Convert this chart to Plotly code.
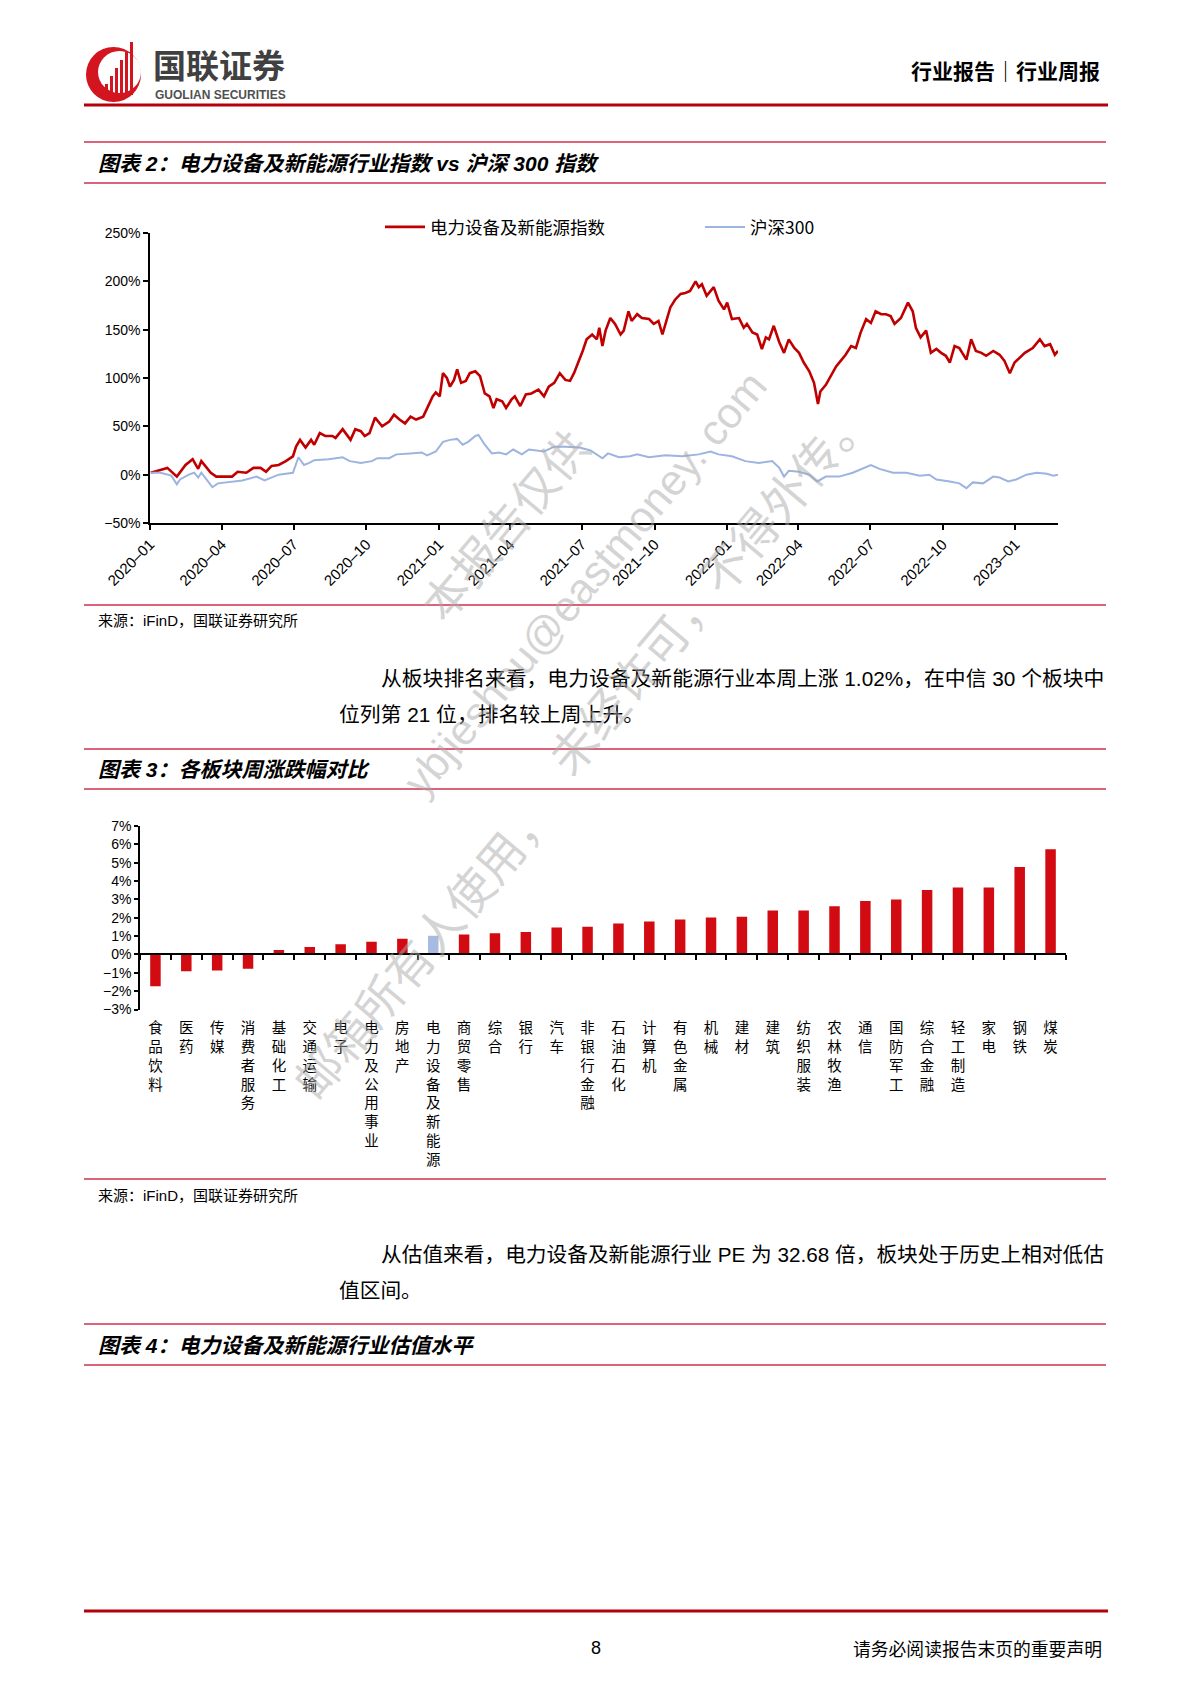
import plotly.graph_objects as go

# page size (px)
W, H = 1191, 1684

def px(x):
    return x / W

def py(y):
    return 1 - y / H

CJK = "Noto Sans CJK SC"
MIX = "Liberation Sans, Noto Sans CJK SC"
RED = "#C00000"
BLUE = "#9DB3E0"
PINK = "#D0304E"

###########################################
# data: 电力设备及新能源指数 vs 沪深300 (cumulative %)

ne_dates = [
    "2020-01-02", "2020-01-14", "2020-01-23", "2020-02-04", "2020-02-15", "2020-02-24",
    "2020-03-02", "2020-03-06", "2020-03-11", "2020-03-18", "2020-03-25", "2020-04-01",
    "2020-04-14", "2020-04-21", "2020-05-02", "2020-05-11", "2020-05-20", "2020-05-27",
    "2020-06-03", "2020-06-12", "2020-06-21", "2020-06-30", "2020-07-04", "2020-07-09",
    "2020-07-16", "2020-07-23", "2020-07-27", "2020-08-03", "2020-08-10", "2020-08-19",
    "2020-08-23", "2020-09-01", "2020-09-11", "2020-09-17", "2020-09-24", "2020-09-29",
    "2020-10-05", "2020-10-12", "2020-10-21", "2020-10-30", "2020-11-05", "2020-11-12",
    "2020-11-19", "2020-11-26", "2020-12-03", "2020-12-12", "2020-12-19", "2020-12-24",
    "2020-12-28", "2021-01-02", "2021-01-06", "2021-01-11", "2021-01-15", "2021-01-20",
    "2021-01-24", "2021-01-29", "2021-02-04", "2021-02-09", "2021-02-16", "2021-02-22",
    "2021-02-28", "2021-03-06", "2021-03-11", "2021-03-15", "2021-03-22", "2021-03-27",
    "2021-04-03", "2021-04-07", "2021-04-14", "2021-04-21", "2021-04-28", "2021-05-07",
    "2021-05-14", "2021-05-20", "2021-05-27", "2021-06-03", "2021-06-10", "2021-06-16",
    "2021-06-21", "2021-06-28", "2021-07-02", "2021-07-07", "2021-07-14", "2021-07-20",
    "2021-07-23", "2021-07-27", "2021-07-31", "2021-08-06", "2021-08-12", "2021-08-19",
    "2021-08-23", "2021-08-29", "2021-09-02", "2021-09-09", "2021-09-15", "2021-09-24",
    "2021-09-30", "2021-10-06", "2021-10-11", "2021-10-17", "2021-10-21", "2021-10-27",
    "2021-11-03", "2021-11-09", "2021-11-15", "2021-11-22", "2021-11-26", "2021-11-30",
    "2021-12-06", "2021-12-15", "2021-12-21", "2021-12-28", "2022-01-01", "2022-01-07",
    "2022-01-16", "2022-01-22", "2022-01-26", "2022-02-02", "2022-02-08", "2022-02-14",
    "2022-02-19", "2022-02-23", "2022-03-01", "2022-03-08", "2022-03-14", "2022-03-20",
    "2022-03-27", "2022-04-02", "2022-04-08", "2022-04-15", "2022-04-21", "2022-04-26",
    "2022-04-29", "2022-05-06", "2022-05-12", "2022-05-19", "2022-05-25", "2022-05-31",
    "2022-06-07", "2022-06-13", "2022-06-19", "2022-06-26", "2022-07-02", "2022-07-08",
    "2022-07-15", "2022-07-21", "2022-07-27", "2022-08-01", "2022-08-09", "2022-08-18",
    "2022-08-24", "2022-08-28", "2022-09-03", "2022-09-10", "2022-09-16", "2022-09-23",
    "2022-09-29", "2022-10-05", "2022-10-10", "2022-10-16", "2022-10-22", "2022-10-31",
    "2022-11-06", "2022-11-12", "2022-11-19", "2022-11-25", "2022-12-04", "2022-12-12",
    "2022-12-18", "2022-12-25", "2022-12-31", "2023-01-06", "2023-01-13", "2023-01-23",
    "2023-02-01", "2023-02-07", "2023-02-14", "2023-02-20", "2023-02-24",
]
ne_vals = [
    2, 5, 7, -2, 10, 16,
    6, 14, 9, 2, -2, -2,
    -2, 3, 2, 7, 7, 3,
    9, 10, 14, 19, 29, 36,
    28, 36, 31, 43, 40, 40,
    38, 47, 36, 47, 45, 40,
    43, 59, 50, 55, 62, 57,
    53, 60, 57, 60, 72, 81,
    85, 81, 105, 100, 91, 98,
    109, 95, 97, 105, 107, 102,
    84, 81, 69, 78, 76, 69,
    78, 81, 71, 83, 84, 88,
    81, 91, 95, 105, 98, 97,
    105, 119, 128, 140, 145, 140,
    152, 133, 149, 162, 156, 145,
    149, 169, 159, 166, 162, 161,
    156, 159, 145, 162, 173, 181,
    187, 188, 190, 200, 194, 197,
    185, 194, 180, 171, 178, 161,
    162, 152, 156, 147, 145, 130,
    142, 140, 154, 137, 126, 140,
    131, 126, 116, 107, 95, 73,
    86, 93, 102, 112, 118, 124,
    133, 131, 147, 161, 157, 169,
    166, 166, 164, 156, 162, 178,
    169, 152, 142, 149, 126, 130,
    126, 123, 116, 133, 131, 119,
    140, 128, 126, 123, 128, 124,
    118, 105, 116, 121, 126, 131,
    140, 133, 135, 124, 128,
]

hs_dates = [
    "2020-01-02", "2020-01-14", "2020-01-28", "2020-02-04", "2020-02-08", "2020-02-19",
    "2020-02-26", "2020-03-02", "2020-03-06", "2020-03-13", "2020-03-20", "2020-03-27",
    "2020-04-09", "2020-04-27", "2020-05-15", "2020-05-25", "2020-06-12", "2020-06-30",
    "2020-07-07", "2020-07-14", "2020-07-20", "2020-07-27", "2020-08-14", "2020-09-01",
    "2020-09-10", "2020-09-24", "2020-10-08", "2020-10-15", "2020-10-30", "2020-11-08",
    "2020-11-26", "2020-12-10", "2020-12-17", "2020-12-28", "2021-01-06", "2021-01-15",
    "2021-01-24", "2021-01-31", "2021-02-07", "2021-02-16", "2021-02-20", "2021-02-28",
    "2021-03-09", "2021-03-18", "2021-03-27", "2021-04-05", "2021-04-16", "2021-04-25",
    "2021-05-14", "2021-05-27", "2021-06-10", "2021-06-28", "2021-07-12", "2021-07-27",
    "2021-08-03", "2021-08-17", "2021-08-31", "2021-09-09", "2021-09-24", "2021-10-15",
    "2021-11-05", "2021-11-26", "2021-12-11", "2021-12-21", "2022-01-07", "2022-01-24",
    "2022-02-10", "2022-02-27", "2022-03-08", "2022-03-14", "2022-03-20", "2022-04-02",
    "2022-04-15", "2022-04-25", "2022-05-06", "2022-05-23", "2022-06-09", "2022-06-21",
    "2022-07-02", "2022-07-13", "2022-07-30", "2022-08-16", "2022-09-02", "2022-09-14",
    "2022-09-23", "2022-10-10", "2022-10-22", "2022-10-31", "2022-11-08", "2022-11-21",
    "2022-12-04", "2022-12-12", "2022-12-23", "2023-01-02", "2023-01-15", "2023-01-28",
    "2023-02-10", "2023-02-18", "2023-02-24",
]
hs_vals = [
    2, 2, -1, -10, -5, 0,
    2, -3, 2, -5, -13, -9,
    -8, -6, -2, -6, 0, 2,
    18, 10, 12, 15, 16, 18,
    14, 12, 14, 17, 17, 21,
    22, 23, 20, 24, 34, 36,
    37, 31, 34, 40, 41, 31,
    22, 23, 21, 26, 21, 26,
    24, 29, 29, 28, 25, 17,
    22, 18, 19, 21, 18, 20,
    19, 21, 24, 21, 19, 14,
    12, 14, 7, -2, 4, 3,
    0, -7, -2, -2, 2, 6,
    10, 6, 2, 2, -1, 0,
    -5, -7, -9, -14, -8, -9,
    -2, -3, -7, -5, 0, 2,
    1, -1, 0,
]

quarter_ticks = ["2020-01-01", "2020-04-01", "2020-07-01", "2020-10-01", "2021-01-01",
                 "2021-04-01", "2021-07-01", "2021-10-01", "2022-01-01", "2022-04-01",
                 "2022-07-01", "2022-10-01", "2023-01-01"]
quarter_labels = ["2020–01", "2020–04", "2020–07", "2020–10", "2021–01", "2021–04",
                  "2021–07", "2021–10", "2022–01", "2022–04", "2022–07", "2022–10", "2023–01"]

# data: 各板块周涨跌幅 (%)
sectors = ["食品饮料", "医药", "传媒", "消费者服务", "基础化工", "交通运输", "电子",
           "电力及公用事业", "房地产", "电力设备及新能源", "商贸零售", "综合", "银行", "汽车",
           "非银行金融", "石油石化", "计算机", "有色金属", "机械", "建材", "建筑", "纺织服装",
           "农林牧渔", "通信", "国防军工", "综合金融", "轻工制造", "家电", "钢铁", "煤炭"]
sector_chg = [-1.73, -0.91, -0.87, -0.78, 0.24, 0.40, 0.55, 0.69, 0.85, 1.02, 1.09, 1.16,
              1.22, 1.47, 1.51, 1.69, 1.80, 1.91, 2.02, 2.05, 2.40, 2.40, 2.62, 2.91, 3.00,
              3.51, 3.65, 3.65, 4.76, 5.73]
highlight = "电力设备及新能源"

###########################################

fig = go.Figure()

fig.add_trace(go.Scatter(x=ne_dates, y=ne_vals, mode="lines", name="电力设备及新能源指数",
                         line=dict(color=RED, width=2.6), xaxis="x", yaxis="y"))
fig.add_trace(go.Scatter(x=hs_dates, y=hs_vals, mode="lines", name="沪深300",
                         line=dict(color=BLUE, width=2), xaxis="x", yaxis="y"))

bar_colors = ["#A7BAE2" if s == highlight else "#D20A11" for s in sectors]
fig.add_trace(go.Bar(x=sectors, y=sector_chg, marker=dict(color=bar_colors, line_width=0),
                     width=0.34, showlegend=False, xaxis="x2", yaxis="y2"))
# empty trace so the zero-line axis (x3) gets its own subplot
fig.add_trace(go.Scatter(x=[], y=[], showlegend=False, xaxis="x3", yaxis="y2"))

# y position (paper) of the 0% level in the bar chart
y2_dom = [py(1009.5), py(826)]
y2_rng = [-3, 7]
zero_pos = y2_dom[0] + (0 - y2_rng[0]) / (y2_rng[1] - y2_rng[0]) * (y2_dom[1] - y2_dom[0])

axis_common = dict(showline=True, linecolor="black", linewidth=1.5, ticks="outside",
                   tickcolor="black", tickwidth=1.5, showgrid=False, zeroline=False,
                   automargin=False)

fig.update_layout(
    width=W, height=H, autosize=False,
    margin=dict(l=0, r=0, t=0, b=0, pad=0, autoexpand=False),
    paper_bgcolor="white", plot_bgcolor="white",
    font=dict(family=MIX, color="black"),
    xaxis=dict(domain=[px(150), px(1058)], anchor="y", type="date",
               range=["2020-01-01", "2023-02-24"], tickmode="array",
               tickvals=quarter_ticks, ticktext=quarter_labels, tickangle=-45, ticklen=5,
               tickfont=dict(size=15, family="Liberation Sans"), **axis_common),
    yaxis=dict(domain=[py(523), py(233)], anchor="x", range=[-50, 250], dtick=50,
               ticksuffix="%", ticklen=5, tickfont=dict(size=14, family="Liberation Sans"),
               **axis_common),
    xaxis2=dict(domain=[px(140), px(1066)], anchor="y2", type="category",
                range=[-0.5, len(sectors) - 0.5], tickmode="array", tickvals=sectors,
                ticktext=["<br>".join(s) for s in sectors], tickangle=0,
                ticklabelstandoff=8,
                showline=False, ticks="", showgrid=False, zeroline=False, automargin=False,
                tickfont=dict(size=14.5, family=CJK)),
    yaxis2=dict(domain=y2_dom, anchor="x2", range=y2_rng, dtick=1, ticksuffix="%",
                ticklen=4, tickfont=dict(size=14, family="Liberation Sans"), **axis_common),
    xaxis3=dict(overlaying="x2", anchor="free", position=zero_pos, type="linear",
                range=[-0.5, len(sectors) - 0.5], tickmode="array",
                tickvals=[i - 0.5 for i in range(len(sectors) + 1)], ticklen=5,
                showticklabels=False, **axis_common),
    legend=dict(orientation="h", x=px(380), y=py(227), xanchor="left", yanchor="middle",
                itemwidth=40, entrywidth=265, entrywidthmode="pixels",
                bgcolor="rgba(0,0,0,0)", font=dict(size=17.5, family=CJK)),
    bargap=0.66,
)

###########################################
# page decoration: rules, texts, logo, watermark

shapes = []

def hline(y, color, width, x0=84, x1=1106):
    shapes.append(dict(type="line", xref="paper", yref="paper", x0=px(x0), x1=px(x1),
                       y0=py(y), y1=py(y), line=dict(color=color, width=width)))

hline(105, "#B3000C", 3, 84, 1108)
hline(1611, "#B3000C", 3, 84, 1108)
for yy in [142, 183, 605, 749, 789, 1179, 1324, 1365]:
    hline(yy, PINK, 1.3)

# logo mark
LOGO_RED = "#D2151E"
shapes.append(dict(type="circle", xref="paper", yref="paper", x0=px(86), x1=px(141),
                   y0=py(102), y1=py(47), fillcolor=LOGO_RED, line_width=0))
shapes.append(dict(type="circle", xref="paper", yref="paper", x0=px(98), x1=px(141),
                   y0=py(93), y1=py(51), fillcolor="white", line_width=0))
for bx, top in [(105, 84), (110, 76), (115, 68), (120, 60), (125, 52), (130, 42)]:
    shapes.append(dict(type="rect", xref="paper", yref="paper", x0=px(bx), x1=px(bx + 3),
                       y0=py(95), y1=py(top), fillcolor=LOGO_RED, line_width=0))

annotations = []

def note(x, y, s, size, xanchor="left", family=MIX, color="black", angle=0):
    annotations.append(dict(x=px(x), y=py(y), xref="paper", yref="paper", text=s,
                            showarrow=False, xanchor=xanchor, yanchor="middle",
                            textangle=angle, font=dict(size=size, family=family, color=color)))

note(151, 64, "<b>国联证券</b>", 33, family=CJK, color="#404040")
note(153, 95, "<b>GUOLIAN SECURITIES</b>", 12, family="Liberation Sans", color="#505050")
note(1102, 70, "<b>行业报告｜行业周报</b>", 21, xanchor="right", family=CJK)

note(96, 163, "<b><i>图表 2：电力设备及新能源行业指数 vs 沪深 300 指数</i></b>", 21)
note(96, 621, "来源：iFinD，国联证券研究所", 15)
note(379, 679, "从板块排名来看，电力设备及新能源行业本周上涨 1.02%，在中信 30 个板块中", 20.8)
note(337, 714, "位列第 21 位，排名较上周上升。", 20.8)
note(96, 769, "<b><i>图表 3：各板块周涨跌幅对比</i></b>", 21)
note(96, 1195, "来源：iFinD，国联证券研究所", 15)
note(379, 1254, "从估值来看，电力设备及新能源行业 PE 为 32.68 倍，板块处于历史上相对低估", 20.7)
note(337, 1290, "值区间。", 20.7)
note(96, 1345, "<b><i>图表 4：电力设备及新能源行业估值水平</i></b>", 21)
note(596, 1648, "8", 18, xanchor="center", family="Liberation Sans")
note(1104, 1648, "请务必阅读报告末页的重要声明", 17.8, xanchor="right", family=CJK)

# watermark
WM = "rgba(170,170,170,0.5)"
note(503, 524, "本报告仅供", 46, xanchor="center", family=CJK, color=WM, angle=-50)
note(585, 583, "ybjieshou@eastmoney. com", 43, xanchor="center",
     family="Liberation Sans", color=WM, angle=-50)
note(707, 585, "未经许可，不得外传。", 47, xanchor="center", family=CJK, color=WM, angle=-50)
note(422, 945, "邮箱所有人使用，", 47, xanchor="center", family=CJK, color=WM, angle=-50)

fig.update_layout(shapes=shapes, annotations=annotations)

fig.write_html("out.html", config={"displayModeBar": False},
               post_script="document.body.style.margin='0';document.body.style.overflow='hidden';")
